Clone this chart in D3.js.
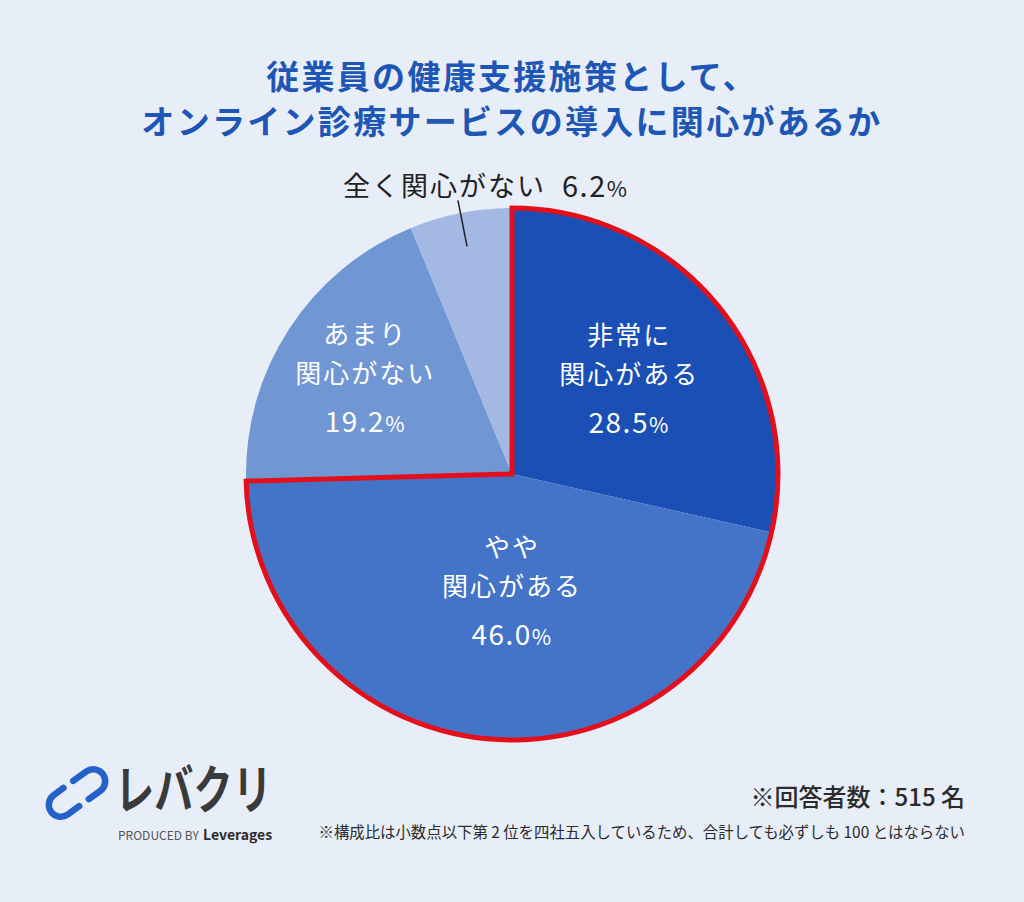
<!DOCTYPE html>
<html>
<head>
<meta charset="utf-8">
<script src="https://cdn.jsdelivr.net/npm/d3@7"></script>
<style>
  body { margin: 0; background: #e8eef8; }
  svg text { font-family: "Noto Sans CJK JP", "Noto Sans", sans-serif; }
</style>
</head>
<body>
<div id="chart"></div>
<script>
// data
var categories = ["非常に\n関心がある", "やや\n関心がある", "あまり\n関心がない", "全く関心がない"];
var values = [28.5, 46.0, 19.2, 6.2];
var colors = ["#1a4fb5", "#4374c7", "#7096d4", "#a3b9e3"];
var highlighted = [0, 1];
var titleLines = ["従業員の健康支援施策として、", "オンライン診療サービスの導入に関心があるか"];

var svgWidth = 1024;
var svgHeight = 902;
var cx = 512, cy = 474, radius = 266;

var svg = d3.select("#chart")
    .append("svg")
    .attr("width", svgWidth)
    .attr("height", svgHeight);

svg.append("rect")
    .attr("width", svgWidth)
    .attr("height", svgHeight)
    .attr("fill", "#e8eef8");

// title
svg.selectAll(".title")
    .data(titleLines)
    .enter()
    .append("text")
    .attr("class", "title")
    .attr("x", svgWidth / 2)
    .attr("y", (d, i) => 89 + i * 45)
    .attr("text-anchor", "middle")
    .attr("font-size", "33px")
    .attr("font-weight", "bold")
    .attr("letter-spacing", "2.3px")
    .attr("fill", "#1e56b5")
    .text(d => d);

var pieGroup = svg.append("g")
    .attr("transform", `translate(${cx}, ${cy})`);

var pie = d3.pie().sort(null).value(d => d);
var arcs = pie(values);
var arc = d3.arc().innerRadius(0).outerRadius(radius);

pieGroup.selectAll("path.slice")
    .data(arcs)
    .enter()
    .append("path")
    .attr("class", "slice")
    .attr("d", arc)
    .attr("fill", (d, i) => colors[i]);

// red outline round the highlighted slices
var hl = highlighted.map(i => arcs[i]);
pieGroup.append("path")
    .attr("d", arc({
        startAngle: d3.min(hl, d => d.startAngle),
        endAngle: d3.max(hl, d => d.endAngle)
    }))
    .attr("fill", "none")
    .attr("stroke", "#e3101b")
    .attr("stroke-width", 5)
    .attr("stroke-linejoin", "miter");

// labels inside the slices
var labelRadius = [150, 118, 175];
arcs.slice(0, 3).forEach(function (d, i) {
    var a = (d.startAngle + d.endAngle) / 2;
    var x = i === 1 ? 0 : Math.sin(a) * labelRadius[i];
    var y = i === 1 ? labelRadius[i] : -Math.cos(a) * labelRadius[i];
    var lines = categories[i].split("\n");
    var t = pieGroup.append("text")
        .attr("text-anchor", "middle")
        .attr("fill", "#ffffff")
        .attr("font-size", "26px")
        .attr("letter-spacing", "2px");
    t.append("tspan").attr("x", x).attr("y", y - 35).text(lines[0]);
    t.append("tspan").attr("x", x).attr("y", y + 4).text(lines[1]);
    var p = pieGroup.append("text")
        .attr("x", x)
        .attr("y", y + 53)
        .attr("text-anchor", "middle")
        .attr("fill", "#ffffff")
        .attr("font-size", "28px")
        .attr("letter-spacing", "1.5px");
    p.append("tspan").text(d3.format(".1f")(values[i]));
    p.append("tspan").attr("font-size", "21px").text("%");
});

// outer label for the smallest slice
var small = arcs[3];
var sa = (small.startAngle + small.endAngle) / 2;
pieGroup.append("line")
    .attr("x1", Math.sin(sa) * 232)
    .attr("y1", -Math.cos(sa) * 232)
    .attr("x2", Math.sin(sa) * 279)
    .attr("y2", -Math.cos(sa) * 279)
    .attr("stroke", "#222")
    .attr("stroke-width", 1.5);

svg.append("text")
    .attr("x", 546)
    .attr("y", 196)
    .attr("text-anchor", "end")
    .attr("font-size", "27px")
    .attr("letter-spacing", "2px")
    .attr("fill", "#222")
    .text(categories[3]);

var sp = svg.append("text")
    .attr("x", 562)
    .attr("y", 197)
    .attr("font-size", "29px")
    .attr("letter-spacing", "1.5px")
    .attr("fill", "#222");
sp.append("tspan").text(d3.format(".1f")(values[3]));
sp.append("tspan").attr("font-size", "22px").text("%");

// footer notes
svg.append("text")
    .attr("x", 965)
    .attr("y", 806)
    .attr("text-anchor", "end")
    .attr("font-size", "24px")
    .attr("font-weight", "500")
    .attr("fill", "#2b2b2b")
    .text("※回答者数：515 名");

svg.append("text")
    .attr("x", 965)
    .attr("y", 838)
    .attr("text-anchor", "end")
    .attr("font-size", "15.4px")
    .attr("fill", "#2b2b2b")
    .text("※構成比は小数点以下第 2 位を四社五入しているため、合計しても必ずしも 100 とはならない");

// logo: two interlocking hooks
var logo = svg.append("g")
    .attr("transform", "translate(77, 793) rotate(-36)");
var hook = d3.path();
hook.moveTo(4, -12);
hook.lineTo(20, -12);
hook.arc(20, 0, 12, -Math.PI / 2, Math.PI / 2);
hook.lineTo(6, 12);
var hook2 = d3.path();
hook2.moveTo(-6, 12);
hook2.lineTo(-20, 12);
hook2.arc(-20, 0, 12, Math.PI / 2, Math.PI * 1.5);
hook2.lineTo(-8, -12);
logo.selectAll("path")
    .data([hook.toString(), hook2.toString()])
    .enter()
    .append("path")
    .attr("d", d => d)
    .attr("fill", "none")
    .attr("stroke", "#2461c9")
    .attr("stroke-width", 6.5)
    .attr("stroke-linecap", "round");

svg.append("text")
    .attr("x", 115)
    .attr("y", 809)
    .attr("font-size", "44px")
    .attr("font-weight", "bold")
    .attr("fill", "#3a3a3a")
    .attr("textLength", 157)
    .attr("lengthAdjust", "spacingAndGlyphs")
    .attr("transform", "translate(0, 809) scale(1, 1.2) translate(0, -809)")
    .text("レバクリ");

svg.append("text")
    .attr("x", 118)
    .attr("y", 840)
    .attr("font-size", "12px")
    .attr("fill", "#555")
    .attr("font-family", "Lato, 'Noto Sans', sans-serif")
    .text("PRODUCED BY");

svg.append("text")
    .attr("x", 203)
    .attr("y", 840)
    .attr("font-size", "14px")
    .attr("font-weight", "bold")
    .attr("fill", "#2b2b2b")
    .attr("font-family", "Lato, 'Noto Sans', sans-serif")
    .text("Leverages");
</script>
</body>
</html>
